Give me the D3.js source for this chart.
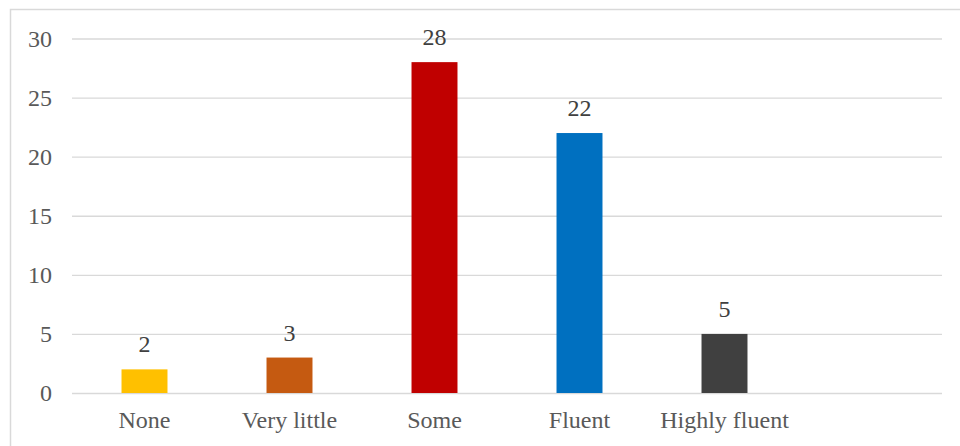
<!DOCTYPE html>
<html lang="en">
	<head>
		<meta charset="UTF-8">
		<title>Fluency chart</title>
		<script src="https://d3js.org/d3.v7.min.js"></script>
		<style>
			body { margin: 0; background: #fff; overflow: hidden; }
			svg text { font-family: "Liberation Serif", "Tinos", "Times New Roman", "DejaVu Serif", serif; }
		</style>
	</head>
	<body>
		<script>
			var categories = ['None', 'Very little', 'Some', 'Fluent', 'Highly fluent'];
			var values = [2, 3, 28, 22, 5];
			var colors = ['#FFC000', '#C55A11', '#C00000', '#0070C0', '#404040'];
			var yTicks = [0, 5, 10, 15, 20, 25, 30];

			var width = 960, height = 446;
			var margin = { left: 72, right: 18, top: 38.5, bottom: 53 };
			var fontFamily = '"Liberation Serif", "Tinos", "Times New Roman", "DejaVu Serif", serif';
			var fontSize = 24;

			var svg = d3.select('body')
						.append('svg')
						.attr('width', width)
						.attr('height', height)
						.attr('font-family', fontFamily);

			// chart frame, its right and bottom edges run past the picture
			svg.append('rect')
				.attr('x', 10.5)
				.attr('y', 9.5)
				.attr('width', width + 20)
				.attr('height', height + 20)
				.attr('fill', 'none')
				.attr('stroke', '#d9d9d9')
				.attr('stroke-width', 1.5);

			// an extra empty slot at the end, as in the original
			var xScale = d3.scaleBand()
							.domain(categories.concat(['']))
							.range([margin.left, width - margin.right])
							.paddingInner(0.683)
							.paddingOuter(0.3415);

			var yScale = d3.scaleLinear()
							.domain([0, 30])
							.range([height - margin.bottom, margin.top]);

			var grid = svg.append('g')
							.attr('class', 'grid')
							.attr('transform', 'translate(' + margin.left + ',0)')
							.call(d3.axisLeft(yScale)
								.tickValues(yTicks)
								.tickSize(-(width - margin.right - margin.left))
								.tickFormat(''));
			grid.select('.domain').remove();
			grid.selectAll('line')
				.attr('stroke', '#d9d9d9')
				.attr('stroke-width', 1.3);

			var yAxis = svg.append('g')
							.attr('transform', 'translate(' + margin.left + ',0)')
							.call(d3.axisLeft(yScale).tickValues(yTicks).tickSize(0).tickPadding(20));
			yAxis.attr('font-family', fontFamily).attr('font-size', fontSize);
			yAxis.select('.domain').remove();
			yAxis.selectAll('text').attr('fill', '#595959');

			var xAxis = svg.append('g')
							.attr('transform', 'translate(0,' + yScale(0) + ')')
							.call(d3.axisBottom(xScale).tickSize(0).tickPadding(18));
			xAxis.attr('font-family', fontFamily).attr('font-size', fontSize);
			xAxis.select('.domain').remove();
			xAxis.selectAll('text').attr('fill', '#595959');

			svg.selectAll('rect.bar')
				.data(values)
				.enter()
					.append('rect')
					.attr('class', 'bar')
					.attr('x', function(d, i) { return xScale(categories[i]); })
					.attr('y', function(d) { return yScale(d); })
					.attr('width', xScale.bandwidth())
					.attr('height', function(d) { return yScale(0) - yScale(d); })
					.attr('fill', function(d, i) { return colors[i]; });

			svg.selectAll('text.label')
				.data(values)
				.enter()
					.append('text')
					.attr('class', 'label')
					.attr('x', function(d, i) { return xScale(categories[i]) + xScale.bandwidth() / 2; })
					.attr('y', function(d) { return yScale(d) - 17; })
					.attr('text-anchor', 'middle')
					.attr('fill', '#404040')
					.attr('font-size', fontSize)
					.text(function(d) { return d; });
		</script>
	</body>
</html>
